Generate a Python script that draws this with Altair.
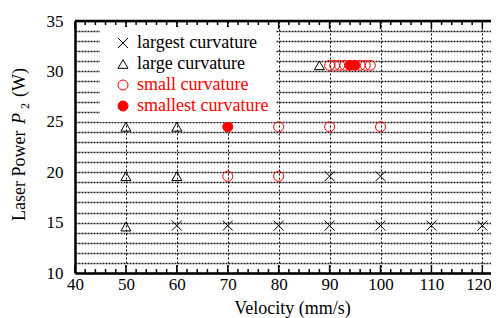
import altair as alt
import pandas as pd

categories = ["largest curvature", "large curvature", "small curvature", "smallest curvature"]

largest_v = [60, 70, 80, 90, 100, 110, 120, 90, 100]
largest_p = [14.7, 14.7, 14.7, 14.7, 14.7, 14.7, 14.7, 19.6, 19.6]
large_v = [50, 60, 50, 60, 50, 88]
large_p = [24.5, 24.5, 19.6, 19.6, 14.6, 30.6]
small_v = [70, 80, 80, 90, 100, 90, 91, 92, 93, 96, 97, 98]
small_p = [19.6, 19.6, 24.5, 24.5, 24.5, 30.6, 30.6, 30.6, 30.6, 30.6, 30.6, 30.6]
smallest_v = [70, 94, 95]
smallest_p = [24.5, 30.6, 30.6]

x_major = [40, 50, 60, 70, 80, 90, 100, 110, 120]
x_minor = [v for v in range(40, 122, 2) if v % 10 != 0]
y_values = list(range(10, 36))

FONT = "Liberation Serif"
W, H = 416, 252
XDOM = [40, 121.7]
YDOM = [10, 35]

rows = []
for name, vs, ps in [(categories[0], largest_v, largest_p), (categories[1], large_v, large_p),
                     (categories[2], small_v, small_p), (categories[3], smallest_v, smallest_p)]:
    for v, p in zip(vs, ps):
        rows.append({"v": v, "p": p, "type": name})
df = pd.DataFrame(rows)

xscale = alt.Scale(domain=XDOM, nice=False, zero=False)
yscale = alt.Scale(domain=YDOM, nice=False, zero=False)

xaxis = alt.Axis(
    values=x_major, grid=True, gridColor="black", gridDash=[2, 2], gridWidth=1,
    ticks=False, domainColor="black", domainWidth=2.5, labelFont=FONT, labelFontSize=17,
    labelColor="black", labelPadding=3, title="Velocity (mm/s)", titleFont=FONT,
    titleFontSize=18, titleFontWeight="normal", titleColor="black",
    titleX=217, titleY=40, titleBaseline="alphabetic", labelFlush=False,
    labelAlign={"expr": "datum.value == 120 ? 'right' : 'center'"},
    labelOffset={"expr": "datum.value == 120 ? 9 : 0"})

leg = alt.Legend(
    title=None, orient="none", legendX=25, legendY=6, fillColor="white",
    padding=7, symbolOffset=7, labelOffset=5, rowPadding=3, symbolSize=100,
    labelFont=FONT, labelFontSize=18, symbolStrokeWidth=1,
    labelColor={"expr": "indexof(datum.label, 'small') == 0 ? 'red' : 'black'"},
)

points = alt.Chart(df).mark_point(size=100, strokeWidth=1, opacity=1, filled=False).encode(
    x=alt.X("v:Q", scale=xscale, axis=xaxis),
    y=alt.Y("p:Q", scale=yscale, axis=alt.Axis(
        values=y_values, grid=True, gridColor="#1a1a1a", gridDash=[2, 1], gridWidth=1.7,
        ticks=False, domainColor="black", domainWidth=2.5, labelFont=FONT, labelFontSize=17,
        labelColor="black", labelPadding=12, title=None, labelFlush=False,
        labelExpr="datum.value % 5 == 0 ? datum.label : ''")),
    shape=alt.Shape("type:N", scale=alt.Scale(domain=categories,
        range=["M-1,-1L1,1M1,-1L-1,1", "triangle-up", "circle", "circle"]), legend=leg),
    stroke=alt.Stroke("type:N", scale=alt.Scale(domain=categories,
        range=["black", "black", "red", "red"]), legend=leg),
    fill=alt.Fill("type:N", scale=alt.Scale(domain=categories,
        range=["transparent", "transparent", "transparent", "red"]), legend=leg),
)

minor_df = pd.DataFrame({"v": x_minor})
major_df = pd.DataFrame({"v": x_major})

def ticks(data, y, y2):
    return alt.Chart(data).mark_rule(color="black", strokeWidth=1.5).encode(
        x=alt.X("v:Q", scale=xscale, axis=xaxis), y=alt.value(y), y2=alt.value(y2))

top_frame = alt.Chart(pd.DataFrame({"a": [0]})).mark_rule(color="black", strokeWidth=2.5).encode(
    x=alt.value(0), x2=alt.value(W), y=alt.value(0))

one = pd.DataFrame({"a": [0]})
def ytext(txt, y, x, size, italic=False):
    return alt.Chart(one).mark_text(angle=270, align="left", baseline="alphabetic", font=FONT,
                                    fontSize=size, fontStyle="italic" if italic else "normal",
                                    color="black").encode(
        x=alt.value(x), y=alt.value(y), text=alt.value(txt))

title_parts = ["Laser Power", "P", "2", "(W)"]

chart = alt.layer(
    points,
    ticks(minor_df, H, H - 4), ticks(major_df, H, H - 8),
    ticks(minor_df, 0, 4), ticks(major_df, 0, 8),
    top_frame,
    ytext(title_parts[0], 200, -50, 18),
    ytext(title_parts[1], 103, -50, 18, True),
    ytext(title_parts[2], 88, -46, 12),
    ytext(title_parts[3], 76, -50, 18),
).properties(
    width=W, height=H,
    autosize=alt.AutoSizeParams(type="none"),
    padding={"left": 67, "top": 13, "right": 0, "bottom": 45},
).configure(font=FONT).configure_view(stroke=None)

chart.save("out.html", embed_options={"renderer": "svg", "actions": False})
